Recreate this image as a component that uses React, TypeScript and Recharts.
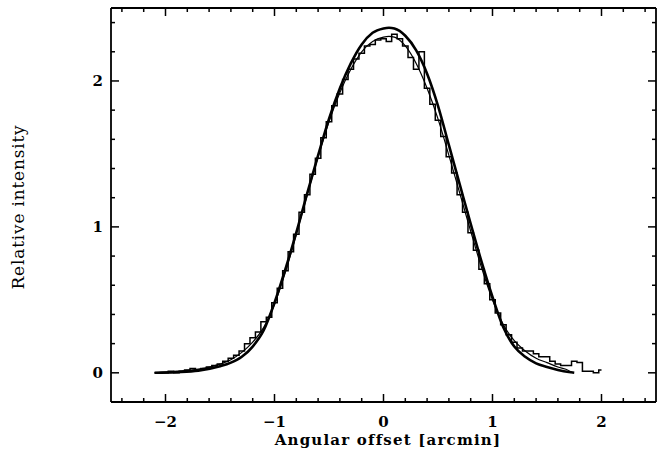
import React from 'react';
import { LineChart, Line, XAxis, YAxis } from 'recharts';

// ---- Data ----
// Observed profile (histogram): bin centres [arcmin] and values
const histCenters = [
  -2.1, -2.05, -2.0, -1.95, -1.9, -1.85, -1.8, -1.75, -1.7, -1.65,
  -1.6, -1.55, -1.5, -1.45, -1.4, -1.35, -1.3, -1.25, -1.2, -1.15,
  -1.1, -1.05, -1.0, -0.95, -0.9, -0.85, -0.8, -0.75, -0.7, -0.65,
  -0.6, -0.55, -0.5, -0.45, -0.4, -0.35, -0.3, -0.25, -0.2, -0.15,
  -0.1, -0.05, 0.0, 0.05, 0.1, 0.15, 0.2, 0.25, 0.3, 0.35,
  0.4, 0.45, 0.5, 0.55, 0.6, 0.65, 0.7, 0.75, 0.8, 0.85,
  0.9, 0.95, 1.0, 1.05, 1.1, 1.15, 1.2, 1.25, 1.3, 1.35,
  1.4, 1.45, 1.5, 1.55, 1.6, 1.65, 1.7, 1.75, 1.8, 1.85,
  1.9, 1.95, 2.0,
];
const histValues = [
  0.0, 0.0, 0.0, 0.01, 0.0, 0.01, 0.02, 0.03, 0.02, 0.03,
  0.04, 0.05, 0.06, 0.08, 0.1, 0.12, 0.15, 0.2, 0.24, 0.28,
  0.35, 0.38, 0.48, 0.58, 0.7, 0.83, 0.95, 1.1, 1.22, 1.36,
  1.47, 1.61, 1.72, 1.83, 1.91, 2.01, 2.08, 2.15, 2.19, 2.24,
  2.25, 2.28, 2.29, 2.27, 2.32, 2.29, 2.24, 2.16, 2.08, 2.2,
  1.95, 1.84, 1.73, 1.62, 1.48, 1.37, 1.22, 1.1, 0.96, 0.84,
  0.71, 0.61, 0.5, 0.41, 0.33, 0.26, 0.21, 0.17, 0.15, 0.15,
  0.13, 0.11, 0.11, 0.08, 0.06, 0.05, 0.05, 0.08, 0.07, 0.01,
  0.01, 0.0, 0.02,
];

// Model 1 (thick smooth curve)
const thickX = [
  -2.1, -1.9, -1.7, -1.5, -1.4, -1.3, -1.2, -1.1, -1.0, -0.9,
  -0.8, -0.7, -0.6, -0.5, -0.4, -0.3, -0.2, -0.1, 0.0, 0.05,
  0.1, 0.2, 0.3, 0.4, 0.5, 0.6, 0.7, 0.8, 0.9, 1.0,
  1.1, 1.2, 1.3, 1.4, 1.5, 1.6, 1.7, 1.75,
];
const thickY = [
  0.0, 0.005, 0.015, 0.045, 0.07, 0.11, 0.18, 0.29, 0.48, 0.71,
  0.96, 1.23, 1.49, 1.74, 1.95, 2.12, 2.25, 2.33, 2.36, 2.365,
  2.36, 2.31, 2.21, 2.05, 1.83, 1.56, 1.29, 1.02, 0.76, 0.52,
  0.31, 0.18, 0.11, 0.065, 0.04, 0.02, 0.005, 0.0,
];

// Model 2 (thin smooth curve)
const thinX = [
  -2.1, -1.9, -1.7, -1.5, -1.4, -1.3, -1.2, -1.1, -1.0, -0.9,
  -0.8, -0.7, -0.6, -0.5, -0.4, -0.3, -0.2, -0.1, 0.0, 0.05,
  0.1, 0.2, 0.3, 0.4, 0.5, 0.6, 0.7, 0.8, 0.9, 1.0,
  1.1, 1.2, 1.3, 1.4, 1.5, 1.6, 1.7, 1.72,
];
const thinY = [
  0.0, 0.01, 0.025, 0.06, 0.09, 0.14, 0.21, 0.31, 0.47, 0.69,
  0.95, 1.22, 1.48, 1.72, 1.92, 2.08, 2.2, 2.27, 2.3, 2.305,
  2.3, 2.24, 2.12, 1.95, 1.74, 1.49, 1.23, 0.97, 0.72, 0.5,
  0.33, 0.22, 0.15, 0.1, 0.07, 0.04, 0.015, 0.0,
];

// Axis ticks
const xTicks = [-2.4, -2.2, -2, -1.8, -1.6, -1.4, -1.2, -1, -0.8, -0.6, -0.4, -0.2, 0,
  0.2, 0.4, 0.6, 0.8, 1, 1.2, 1.4, 1.6, 1.8, 2, 2.2, 2.4];
const yTicks = [0, 0.2, 0.4, 0.6, 0.8, 1, 1.2, 1.4, 1.6, 1.8, 2, 2.2, 2.4];
const xDomain = [-2.5, 2.5];
const yDomain = [-0.2, 2.5];

const xLabel = 'Angular offset [arcmin]';
const yLabel = 'Relative intensity';

const histData = histCenters.map((x, i) => ({ x, y: histValues[i] }));
const thickData = thickX.map((x, i) => ({ x, y: thickY[i] }));
const thinData = thinX.map((x, i) => ({ x, y: thinY[i] }));

const FONT = '"DejaVu Serif", serif';

const isMajor = (v: number) => Math.abs(v - Math.round(v)) < 1e-6;
const fmt = (v: number) => (v < 0 ? '\u2212' + Math.abs(v) : String(v));

const makeTick = (side: 'bottom' | 'top' | 'left' | 'right') => (props: any) => {
  const { x, y, payload } = props;
  const v = payload.value;
  const major = isMajor(v);
  const len = major ? 8 : 4;
  const sw = 1.5;
  let line: React.ReactNode = null;
  let label: React.ReactNode = null;
  if (side === 'bottom') {
    line = <line x1={x} y1={y} x2={x} y2={y - len} stroke="#000" strokeWidth={sw} />;
    if (major)
      label = (
        <text x={x} y={y + 25} textAnchor="middle" fontFamily={FONT} fontWeight="bold" fontSize={15} fill="#000">
          {fmt(v)}
        </text>
      );
  } else if (side === 'top') {
    line = <line x1={x} y1={y} x2={x} y2={y + len} stroke="#000" strokeWidth={sw} />;
  } else if (side === 'left') {
    line = <line x1={x} y1={y} x2={x + len} y2={y} stroke="#000" strokeWidth={sw} />;
    if (major)
      label = (
        <text x={x - 8} y={y + 5.5} textAnchor="end" fontFamily={FONT} fontWeight="bold" fontSize={15} fill="#000">
          {fmt(v)}
        </text>
      );
  } else {
    line = <line x1={x} y1={y} x2={x - len} y2={y} stroke="#000" strokeWidth={sw} />;
  }
  return (
    <g>
      {line}
      {label}
    </g>
  );
};

export default function App() {
  return (
    <div style={{ position: 'absolute', left: 0, top: 0, width: 657, height: 454, background: '#fff' }}>
      <LineChart width={657} height={454} margin={{ top: 0, right: 0, bottom: 0, left: 0 }}>
        <XAxis
          xAxisId="bottom"
          dataKey="x"
          type="number"
          domain={xDomain}
          ticks={xTicks}
          interval={0}
          allowDataOverflow
          orientation="bottom"
          height={52}
          tickSize={0}
          tickMargin={0}
          tickLine={false}
          axisLine={{ stroke: '#000', strokeWidth: 1.8 }}
          tick={makeTick('bottom')}
        />
        <XAxis
          xAxisId="top"
          dataKey="x"
          type="number"
          domain={xDomain}
          ticks={xTicks}
          interval={0}
          allowDataOverflow
          orientation="top"
          height={8}
          tickSize={0}
          tickMargin={0}
          tickLine={false}
          axisLine={{ stroke: '#000', strokeWidth: 1.8 }}
          tick={makeTick('top')}
        />
        <YAxis
          yAxisId="left"
          type="number"
          domain={yDomain}
          ticks={yTicks}
          interval={0}
          allowDataOverflow
          orientation="left"
          width={111}
          tickSize={0}
          tickMargin={0}
          tickLine={false}
          axisLine={{ stroke: '#000', strokeWidth: 1.8 }}
          tick={makeTick('left')}
        />
        <YAxis
          yAxisId="right"
          type="number"
          domain={yDomain}
          ticks={yTicks}
          interval={0}
          allowDataOverflow
          orientation="right"
          width={1}
          tickSize={0}
          tickMargin={0}
          tickLine={false}
          axisLine={{ stroke: '#000', strokeWidth: 1.8 }}
          tick={makeTick('right')}
        />
        <Line
          xAxisId="bottom"
          yAxisId="left"
          data={histData}
          dataKey="y"
          type="step"
          stroke="#000"
          strokeWidth={1.5}
          dot={false}
          activeDot={false}
          isAnimationActive={false}
        />
        <Line
          xAxisId="bottom"
          yAxisId="left"
          data={thinData}
          dataKey="y"
          type="monotone"
          stroke="#000"
          strokeWidth={1.2}
          dot={false}
          activeDot={false}
          isAnimationActive={false}
        />
        <Line
          xAxisId="bottom"
          yAxisId="left"
          data={thickData}
          dataKey="y"
          type="monotone"
          stroke="#000"
          strokeWidth={2.6}
          dot={false}
          activeDot={false}
          isAnimationActive={false}
        />
      </LineChart>
      <svg
        width={657}
        height={454}
        style={{ position: 'absolute', left: 0, top: 0, pointerEvents: 'none' }}
      >
        <text
          x={388}
          y={445}
          textAnchor="middle"
          fontFamily={FONT}
          fontWeight="bold"
          fontSize={15}
          letterSpacing={1.2}
          fill="#000"
        >
          {xLabel}
        </text>
        <text
          transform="translate(24,207) rotate(-90)"
          textAnchor="middle"
          fontFamily={FONT}
          fontSize={17}
          letterSpacing={0.8}
          fill="#000"
        >
          {yLabel}
        </text>
      </svg>
    </div>
  );
}
